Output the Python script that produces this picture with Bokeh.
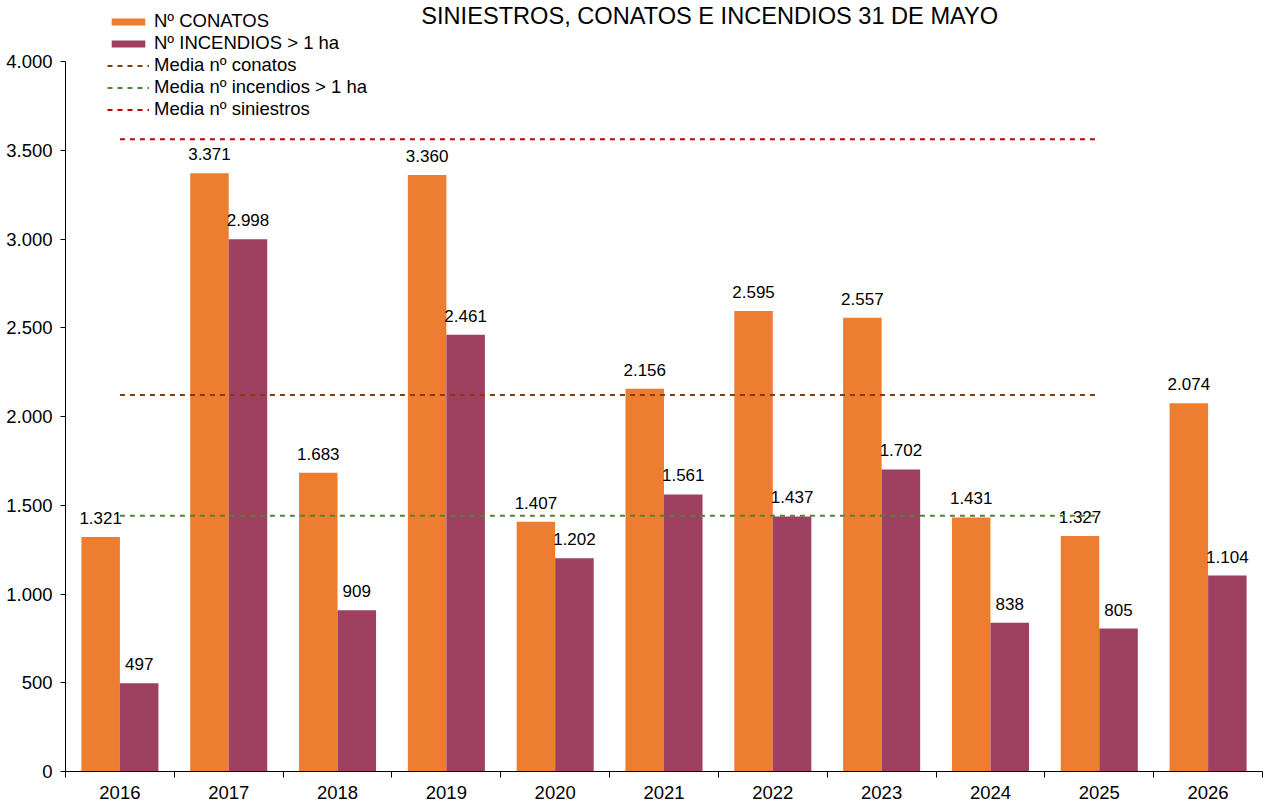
from bokeh.plotting import figure
from bokeh.models import Range1d, FixedTicker, Legend, LegendItem, Label, ColumnDataSource
from bokeh.transform import dodge
from bokeh.core.properties import value
from bokeh.embed import file_html
from bokeh.resources import INLINE

years = ["2016", "2017", "2018", "2019", "2020", "2021", "2022", "2023", "2024", "2025", "2026"]
conatos = [1321, 3371, 1683, 3360, 1407, 2156, 2595, 2557, 1431, 1327, 2074]
incendios = [497, 2998, 909, 2461, 1202, 1561, 1437, 1702, 838, 805, 1104]
media_conatos = 2121
media_incendios = 1441
media_siniestros = 3562
y_ticks = [0, 500, 1000, 1500, 2000, 2500, 3000, 3500, 4000]
y_tick_labels = ["0", "500", "1.000", "1.500", "2.000", "2.500", "3.000", "3.500", "4.000"]
title_text = "SINIESTROS, CONATOS E INCENDIOS 31 DE MAYO"

FONT = "Liberation Sans"
C_CON = "#ED7D31"
C_INC = "#9E4160"
C_MCON = "#843C0C"
C_MINC = "#548235"
C_MSIN = "#C00000"

FRAME_W = 1197
FRAME_H = 771
AXIS_MAX = 4000
AXIS_PX = 710
Y_TOP = AXIS_MAX * FRAME_H / AXIS_PX


def fmt(v):
    return f"{v:,}".replace(",", ".")


pos = [i + 0.5 for i in range(len(years))]
src = ColumnDataSource(dict(
    pos=pos, conatos=conatos, incendios=incendios,
    lab_c=[fmt(v) for v in conatos], lab_i=[fmt(v) for v in incendios],
))

p = figure(frame_width=FRAME_W, frame_height=FRAME_H,
           x_range=Range1d(0, len(years)), y_range=Range1d(0, Y_TOP),
           output_backend="svg", toolbar_location=None,
           min_border_left=65, min_border_right=4, min_border_top=0, min_border_bottom=20)
p.outline_line_color = None
p.xgrid.visible = False
p.ygrid.visible = False

bw = 0.354
off = 0.177
r_con = p.vbar(x=dodge("pos", -off, range=p.x_range), top="conatos", width=bw, bottom=0,
               source=src, fill_color=C_CON, line_color=None)
r_inc = p.vbar(x=dodge("pos", off, range=p.x_range), top="incendios", width=bw, bottom=0,
               source=src, fill_color=C_INC, line_color=None)

for col, lab, dx in (("conatos", "lab_c", -off), ("incendios", "lab_i", off)):
    p.text(x=dodge("pos", dx, range=p.x_range), y=col, text=lab, source=src,
           text_font=value(FONT), text_font_size="17px", text_align="center",
           text_baseline="alphabetic", y_offset=-19, text_color="#000000")

xs = [pos[0], pos[9]]
r_mc = p.line(x=xs, y=[media_conatos] * 2, line_color=C_MCON, line_width=2, line_dash="5 5")
r_mi = p.line(x=xs, y=[media_incendios] * 2, line_color=C_MINC, line_width=2, line_dash="5 5")
r_ms = p.line(x=xs, y=[media_siniestros] * 2, line_color=C_MSIN, line_width=2, line_dash="5 5")

# axes
xa = p.xaxis[0]
xa.ticker = FixedTicker(ticks=pos, minor_ticks=list(range(len(years) + 1)))
xa.major_label_overrides = {pos[i]: years[i] for i in range(len(years))}
xa.major_tick_out = 0
xa.major_tick_in = 0
xa.minor_tick_out = 6
xa.minor_tick_in = 0
xa.minor_tick_line_color = "#000000"
xa.axis_line_color = "#000000"
xa.major_label_standoff = 8
xa.major_label_text_font = FONT
xa.major_label_text_font_size = "18.5px"
xa.major_label_text_color = "#000000"

ya = p.yaxis[0]
ya.bounds = (0, AXIS_MAX)
ya.ticker = FixedTicker(ticks=y_ticks, minor_ticks=[])
ya.major_label_overrides = {y_ticks[i]: y_tick_labels[i] for i in range(len(y_ticks))}
ya.major_tick_out = 5
ya.major_tick_in = 0
ya.major_tick_line_color = "#000000"
ya.axis_line_color = "#000000"
ya.major_label_standoff = 8
ya.major_label_text_font = FONT
ya.major_label_text_font_size = "18.5px"
ya.major_label_text_color = "#000000"

# title
p.add_layout(Label(x=5.92, y=4258, text=title_text, text_align="center", text_baseline="middle",
                   text_font=FONT, text_font_size="23.6px", text_color="#000000"))

legend = Legend(items=[
    LegendItem(label="Nº CONATOS", renderers=[r_con]),
    LegendItem(label="Nº INCENDIOS > 1 ha", renderers=[r_inc]),
    LegendItem(label="Media nº conatos", renderers=[r_mc]),
    LegendItem(label="Media nº incendios > 1 ha", renderers=[r_mi]),
    LegendItem(label="Media nº siniestros", renderers=[r_ms]),
], location=(42, 651), orientation="vertical")
legend.border_line_color = None
legend.background_fill_alpha = 0
legend.padding = 0
legend.margin = 0
legend.spacing = 0
legend.label_height = 22
legend.glyph_height = 9
legend.glyph_width = 42
legend.label_standoff = 5
legend.label_text_font = FONT
legend.label_text_font_size = "18.5px"
legend.label_text_color = "#000000"
legend.label_text_baseline = "middle"
p.add_layout(legend, "center")

open("out.html", "w").write(file_html(p, INLINE))
